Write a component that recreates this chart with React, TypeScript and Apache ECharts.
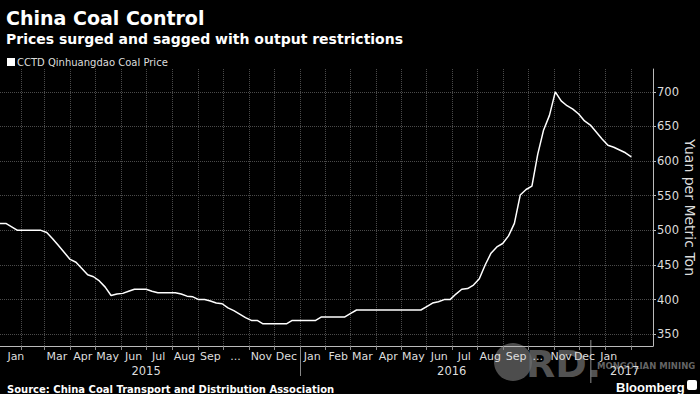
import React, { useEffect, useRef } from "react";
import * as echarts from "echarts";

// ---- Data ----
const firstWeek = "2015-01-07"; // first weekly observation
const axisStart = "2015-01-07";
const axisEnd = "2017-02-27";

// CCTD Qinhuangdao coal price, yuan per metric ton, weekly from firstWeek
const weeklyPrices: number[] = [
  510, 510, 505, 500, 500, 500, 500, 500, 497, 488,
  478, 468, 458, 454, 445, 436, 433, 427, 418, 406,
  408, 409, 412, 415, 415, 415, 412, 410, 410, 410,
  410, 408, 405, 404, 400, 400, 398, 395, 394, 388,
  384, 379, 374, 370, 370, 365, 365, 365, 365, 365,
  370, 370, 370, 370, 370, 375, 375, 375, 375, 375,
  380, 385, 385, 385, 385, 385, 385, 385, 385, 385,
  385, 385, 385, 390, 395, 397, 400, 400, 408, 415,
  416, 421, 430, 450, 467, 476, 481, 492, 510, 551,
  559, 564, 610, 645, 666, 700, 687, 680, 675, 668,
  658, 652, 642, 632, 623, 620, 616, 612, 606,
];

const monthLabelDates = [
  "2015-01-26", "2015-03-16", "2015-04-16", "2015-05-16", "2015-06-16", "2015-07-16",
  "2015-08-16", "2015-09-16", "2015-10-16", "2015-11-16", "2015-12-16",
  "2016-01-16", "2016-02-16", "2016-03-16", "2016-04-16", "2016-05-16", "2016-06-16",
  "2016-07-16", "2016-08-16", "2016-09-16", "2016-10-12", "2016-11-09", "2016-12-07",
  "2017-01-05",
];
const monthLabelTexts = [
  "Jan", "Mar", "Apr", "May", "Jun", "Jul", "Aug", "Sep", "...", "Nov", "Dec",
  "Jan", "Feb", "Mar", "Apr", "May", "Jun", "Jul", "Aug", "Sep", "...", "Nov", "Dec",
  "Jan",
];
const yearLabelDates = ["2015-07-01", "2016-07-01", "2017-01-24"];
const yearLabelTexts = ["2015", "2016", "2017"];
const yearSeparatorDates = ["2016-01-01"];

const seriesName = "CCTD Qinhuangdao Coal Price";

// ---- helpers ----
const DAY = 86400000;
const parse = (s: string) => {
  const [y, m, d] = s.split("-").map(Number);
  return Date.UTC(y, m - 1, d);
};
const fmt = (t: number) => new Date(t).toISOString().slice(0, 10);

const categories: string[] = [];
for (let t = parse(axisStart); t <= parse(axisEnd); t += DAY) categories.push(fmt(t));

const lineData = weeklyPrices.map((v, k) => [fmt(parse(firstWeek) + k * 7 * DAY), v]);

const monthMap: Record<string, string> = {};
monthLabelDates.forEach((d, i) => (monthMap[d] = monthLabelTexts[i]));
const yearMap: Record<string, string> = {};
yearLabelDates.forEach((d, i) => (yearMap[d] = yearLabelTexts[i]));

const FONT = "DejaVu Sans";

export default function App() {
  const ref = useRef<HTMLDivElement>(null);
  useEffect(() => {
    if (!ref.current) return;
    const chart = echarts.init(ref.current, null, { renderer: "svg" });
    chart.setOption({
      animation: false,
      backgroundColor: "#000",
      textStyle: { fontFamily: FONT },
      title: [
        {
          text: "China Coal Control",
          left: 1,
          top: 3,
          textStyle: { color: "#fff", fontSize: 19, fontWeight: "bold", fontFamily: FONT },
        },
        {
          text: "Prices surged and sagged with output restrictions",
          left: 1,
          top: 27,
          textStyle: { color: "#fff", fontSize: 14, fontWeight: "bold", fontFamily: FONT },
        },
        {
          text: "Source: China Coal Transport and Distribution Association",
          left: 2,
          top: 379,
          textStyle: { color: "#fff", fontSize: 10, fontWeight: "bold", fontFamily: FONT },
        },
        {
          text: "Bloomberg",
          left: 611,
          top: 376,
          textStyle: { color: "#fff", fontSize: 13, fontWeight: "bold", fontFamily: "Liberation Sans" },
        },
      ],
      legend: {
        left: 2,
        top: 52,
        icon: "rect",
        itemWidth: 8,
        itemHeight: 8,
        itemGap: 4,
        data: [seriesName],
        textStyle: { color: "#ddd", fontSize: 10, fontFamily: FONT, padding: [0, 0, 0, -3] },
      },
      grid: { left: 0, right: 47, top: 69, bottom: 48, containLabel: false, outerBoundsMode: "none" },
      xAxis: [
        {
          type: "category",
          data: categories,
          boundaryGap: false,
          axisLine: { show: true, lineStyle: { color: "#bbb", width: 1 } },
          axisTick: {
            show: true,
            length: 4,
            interval: (_i: number, v: string) => v.endsWith("-01"),
            lineStyle: { color: "#888" },
          },
          splitLine: {
            show: true,
            interval: (_i: number, v: string) => v.endsWith("-01"),
            lineStyle: { color: "#4a4a4a", type: "dotted", width: 1 },
          },
          axisLabel: {
            interval: (_i: number, v: string) => v in monthMap,
            formatter: (v: string) => monthMap[v] || "",
            color: "#ddd",
            fontSize: 11,
            margin: 5,
            fontFamily: FONT,
            hideOverlap: false,
          },
        },
        {
          type: "category",
          data: categories,
          position: "bottom",
          boundaryGap: false,
          axisLine: { show: false },
          axisTick: {
            show: true,
            length: 30,
            interval: (_i: number, v: string) => yearSeparatorDates.includes(v),
            lineStyle: { color: "#888" },
          },
          splitLine: { show: false },
          axisLabel: {
            interval: (_i: number, v: string) => v in yearMap,
            formatter: (v: string) => yearMap[v] || "",
            color: "#ddd",
            fontSize: 11.5,
            margin: 19,
            fontFamily: FONT,
            hideOverlap: false,
          },
        },
      ],
      yAxis: {
        type: "value",
        position: "right",
        min: 333,
        max: 733,
        splitNumber: 8,
        name: "Yuan per Metric Ton",
        nameLocation: "middle",
        nameRotate: -90,
        nameGap: 30,
        nameMoveOverlap: false,
        nameTextStyle: { color: "#ddd", fontSize: 14, fontFamily: FONT },
        axisLine: { show: true, lineStyle: { color: "#bbb", width: 1 } },
        axisTick: { show: true, length: 3, lineStyle: { color: "#bbb" } },
        axisLabel: {
          color: "#ddd",
          fontSize: 11.5,
          margin: 4,
          fontFamily: FONT,
          showMinLabel: false,
          showMaxLabel: false,
          formatter: (v: number) => (v % 50 === 0 ? String(v) : ""),
        },
        splitLine: {
          show: true,
          showMinLine: false,
          showMaxLine: false,
          lineStyle: { color: "#4a4a4a", type: "dotted", width: 1 },
        },
      },
      series: [
        {
          name: seriesName,
          type: "line",
          xAxisIndex: 0,
          data: lineData,
          showSymbol: false,
          symbol: "none",
          lineStyle: { color: "#fff", width: 1.5 },
          itemStyle: { color: "#fff" },
        },
      ],
      graphic: [
        {
          type: "group",
          z: 0,
          children: [
            { type: "circle", shape: { cx: 513, cy: 362, r: 19 }, style: { fill: "rgba(110,110,110,0.7)" } },
            {
              type: "text",
              x: 526,
              y: 364,
              style: {
                text: "RD.",
                fill: "rgba(110,110,110,0.75)",
                font: "bold 38px " + FONT,
                verticalAlign: "middle",
              },
            },
            { type: "rect", shape: { x: 590, y: 340, width: 1.5, height: 43 }, style: { fill: "rgba(120,120,120,0.8)" } },
            {
              type: "text",
              x: 597,
              y: 366,
              style: {
                text: "MONGOLIAN MINING",
                fill: "rgba(120,120,120,0.85)",
                font: "bold 8.5px " + FONT,
                verticalAlign: "middle",
              },
            },
          ],
        },
        {
          type: "rect",
          shape: { x: 687, y: 380, width: 10, height: 10, r: 2 },
          style: { fill: "#fff" },
        },
      ],
    });
    return () => chart.dispose();
  }, []);
  return (
    <div
      ref={ref}
      style={{ position: "fixed", left: 0, top: 0, width: 700, height: 394, background: "#000" }}
    />
  );
}
